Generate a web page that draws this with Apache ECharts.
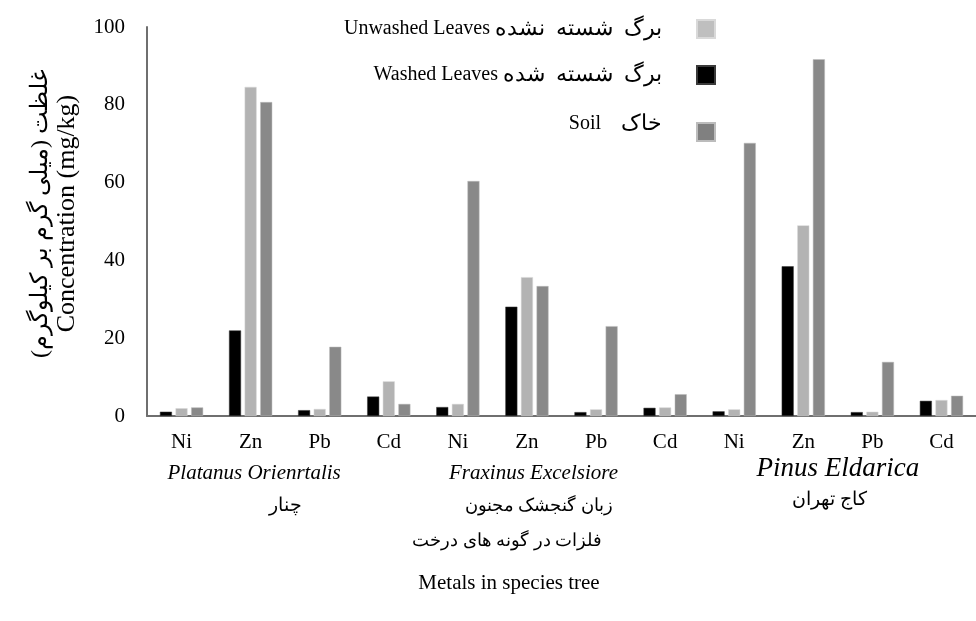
<!DOCTYPE html>
<html>
<head>
<meta charset="utf-8">
<script src="https://cdn.jsdelivr.net/npm/echarts@6/dist/echarts.min.js"></script>
<style>
html,body{margin:0;padding:0;background:#fff;}
#c{width:976px;height:621px;}
</style>
</head>
<body>
<div id="c"></div>
<script>
var metals = ['Ni','Zn','Pb','Cd','Ni','Zn','Pb','Cd','Ni','Zn','Pb','Cd'];
var species = ['Platanus Orienrtalis','Fraxinus Excelsiore','Pinus Eldarica'];
var speciesFa = ['چنار','زبان گنجشک مجنون','کاج تهران'];
var washed   = [1.1, 22.0, 1.5, 5.0,  2.3, 28.1, 1.0, 2.1,  1.2, 38.5, 1.0, 3.9];
var unwashed = [2.0, 84.6, 1.8, 8.9,  3.1, 35.7, 1.7, 2.2,  1.7, 49.0, 1.1, 4.1];
var soil     = [2.2, 80.7, 17.8, 3.1, 60.4, 33.4, 23.1, 5.6, 70.2, 91.7, 13.9, 5.2];
var yTicks = [0, 20, 40, 60, 80, 100];

var legendEn = ['Unwashed Leaves', 'Washed Leaves', 'Soil'];
var legendFa = ['برگ شسته نشده', 'برگ شسته شده', 'خاک'];
var legendGap = [' ', ' ', '    '];
var seriesNames = legendEn.map(function (e, i) { return e + legendGap[i] + legendFa[i]; });

var FONT = '"Liberation Serif", "Times New Roman", serif';

function legendFor(idx, color, top, padBottom) {
  return {
    data: [{name: seriesNames[idx], itemStyle: {color: color}}],
    right: 260, top: top, align: 'right', orient: 'vertical', padding: 0,
    itemWidth: 18, itemHeight: 18, icon: 'rect',
    formatter: function () {
      return '{en|' + legendEn[idx] + '}' + legendGap[idx] + '{fa|' + legendFa[idx].split(' ').join('  ') + '}';
    },
    textStyle: {
      fontFamily: FONT, fontSize: 20, color: '#000',
      padding: [0, 30, padBottom, 0],
      rich: {
        en: {fontFamily: FONT, fontSize: 20, color: '#000'},
        fa: {fontFamily: FONT, fontSize: 22, color: '#000'}
      }
    }
  };
}

var chart = echarts.init(document.getElementById('c'), null, {renderer: 'canvas'});
chart.setOption({
  animation: false,
  backgroundColor: '#fff',
  grid: {left: 147, right: -7, top: 27, bottom: 205, containLabel: false},
  legend: [
    legendFor(0, '#bfbfbf', 18, 0),
    legendFor(1, '#000000', 64, 0),
    legendFor(2, '#808080', 113, 16)
  ],
  xAxis: [{
    type: 'category', data: metals, gridIndex: 0,
    axisLine: {lineStyle: {color: '#6f6f6f', width: 2}},
    axisTick: {show: false},
    axisLabel: {fontFamily: FONT, fontSize: 21, color: '#000', margin: 16}
  }, {
    type: 'category', gridIndex: 0, position: 'bottom', offset: 33,
    data: species,
    axisLine: {show: false}, axisTick: {show: false},
    axisLabel: {
      interval: 0,
      formatter: function (v, i) {
        return '{it' + i + '|' + v + '}\n{fa' + i + '|' + speciesFa[i] + '}';
      },
      rich: {
        it0: {fontFamily: FONT, fontStyle: 'italic', fontSize: 21, color: '#000', lineHeight: 33, padding: [0, 62, 0, 0]},
        it1: {fontFamily: FONT, fontStyle: 'italic', fontSize: 21, color: '#000', lineHeight: 33, padding: [0, 56, 0, 0]},
        it2: {fontFamily: FONT, fontStyle: 'italic', fontSize: 27, color: '#000', lineHeight: 24, padding: [0, 0, 0, 0]},
        fa0: {fontFamily: FONT, fontSize: 19, color: '#000', lineHeight: 33},
        fa1: {fontFamily: FONT, fontSize: 18, color: '#000', lineHeight: 33, padding: [0, 46, 0, 0]},
        fa2: {fontFamily: FONT, fontSize: 19, color: '#000', lineHeight: 38, padding: [0, 16, 0, 0]}
      }
    }
  }],
  yAxis: {
    type: 'value', min: 0, max: 100, interval: 20,
    axisLine: {show: true, lineStyle: {color: '#6f6f6f', width: 2}},
    axisTick: {show: false},
    splitLine: {show: false},
    axisLabel: {fontFamily: FONT, fontSize: 21, color: '#000', margin: 22},
    name: '{fa|\u202Bغلظت (میلی گرم بر کیلوگرم)\u202C}\n{en|Concentration (mg/kg)}',
    nameLocation: 'middle', nameRotate: 90, nameGap: 66,
    nameTextStyle: {
      fontFamily: FONT, fontSize: 24, color: '#000', padding: [0, 0, 0, 16],
      rich: {
        fa: {fontFamily: FONT, fontSize: 24, color: '#000', lineHeight: 27},
        en: {fontFamily: FONT, fontSize: 26, color: '#000', lineHeight: 27}
      }
    }
  },
  graphic: [
    {type: 'text', x: 507, y: 541, style: {text: '\u202Bفلزات در گونه های درخت\u202C', font: '18px ' + FONT, fill: '#000', textAlign: 'center', textVerticalAlign: 'middle'}},
    {type: 'text', x: 509, y: 583, style: {text: 'Metals in species tree', font: '21px ' + FONT, fill: '#000', textAlign: 'center', textVerticalAlign: 'middle'}}
  ],
  series: [
    {name: seriesNames[1], type: 'bar', data: washed, barWidth: 12, barGap: '30%', itemStyle: {color: '#000000', borderColor: '#3a3a3a', borderWidth: 0.5}},
    {name: seriesNames[0], type: 'bar', data: unwashed, barWidth: 12, barGap: '30%', itemStyle: {color: '#b3b3b3', borderColor: '#d9d9d9', borderWidth: 0.5}},
    {name: seriesNames[2], type: 'bar', data: soil, barWidth: 12, barGap: '30%', itemStyle: {color: '#898989', borderColor: '#bcbcbc', borderWidth: 0.5}}
  ]
});
</script>
</body>
</html>
